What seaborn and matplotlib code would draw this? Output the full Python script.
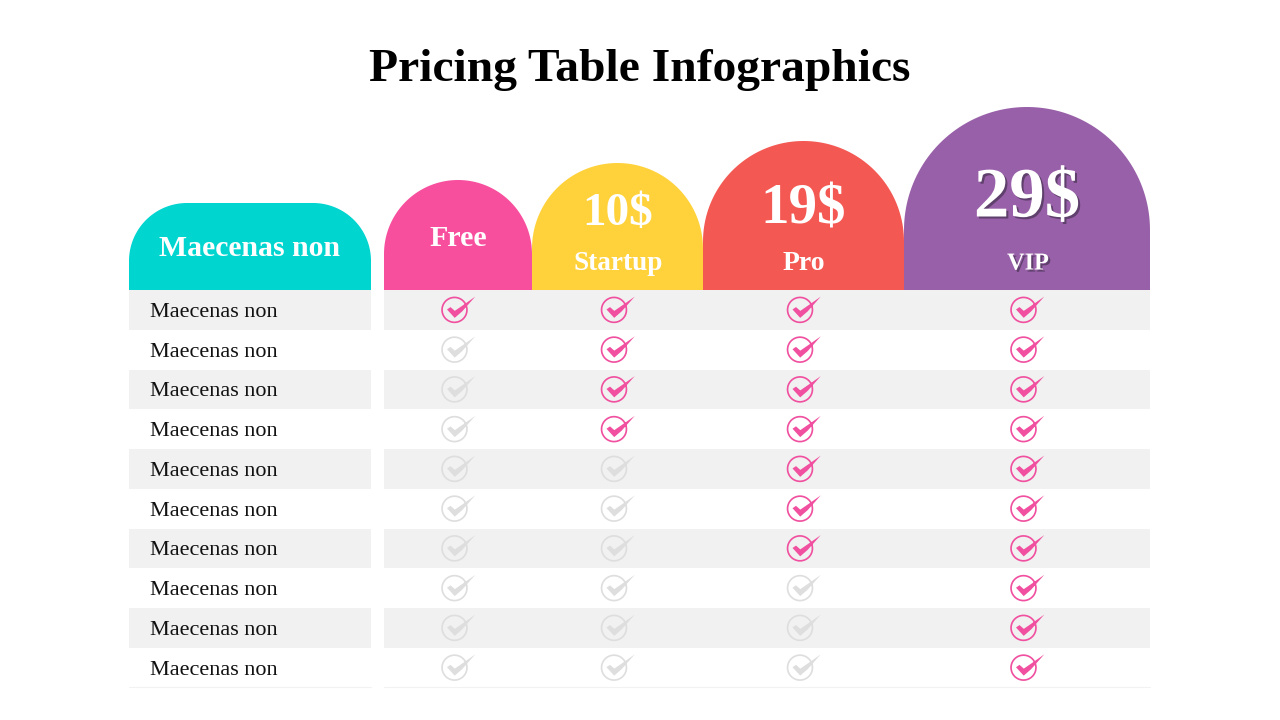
import numpy as np
import pandas as pd
import seaborn as sns
import matplotlib.pyplot as plt
import matplotlib.patheffects as pe
from matplotlib.patches import Polygon, Rectangle
from matplotlib.path import Path

# dados da tabela
title = 'Pricing Table Infographics'
feature_header = 'Maecenas non'
features = ['Maecenas non'] * 10
plans = ['Free', 'Startup', 'Pro', 'VIP']
prices = [None, '10$', '19$', '29$']
included_rows = [1, 4, 7, 10]

# cores
teal = '#00D5D0'
plan_colors = ['#F74F9E', '#FFD23C', '#F45853', '#9860A8']
stripe = '#F1F1F1'
check_on = '#F0509F'
check_off = '#DEDEDE'

# layout em pixels
col_edges = [384, 532, 703, 904, 1150]
arch_tops = [180, 163, 141, 107]
head_bottom = 290
row_h = 39.75
serif = 'Liberation Serif'


def arch(x0, x1, top, bottom):
    r = (x1 - x0) / 2
    a = np.linspace(np.pi, 0, 90)
    xs = (x0 + x1) / 2 + r * np.cos(a)
    ys = top + r - r * np.sin(a)
    pts = [(x0, bottom)] + list(zip(xs, ys)) + [(x1, bottom)]
    return Polygon(pts, closed=True, ec='none')


def rounded_head(x0, x1, top, bottom, r):
    a = np.linspace(np.pi, np.pi / 2, 40)
    left = list(zip(x0 + r + r * np.cos(a), top + r - r * np.sin(a)))
    right = list(zip(x1 - r - r * np.cos(a[::-1]), top + r - r * np.sin(a[::-1])))
    return Polygon([(x0, bottom)] + left + right + [(x1, bottom)], closed=True, ec='none')


def check_marker():
    # anel + visto, coordenadas em px a partir do centro do círculo (y para cima)
    t = np.linspace(0, 2 * np.pi, 80)
    outer = np.c_[13.3 * np.cos(t), 13.3 * np.sin(t)]
    inner = np.c_[11.6 * np.cos(t[::-1]), 11.6 * np.sin(t[::-1])]
    # sentido anti-horário, para não abrir um buraco onde cruza o anel
    tick = [(-7.5, 0.4), (0.2, -8), (7.7, -1.5), (20.8, 13.3), (9, 5), (0.3, -1), (-4, 2.8), (-7.5, 0.4)]
    return Path.make_compound_path(Path(outer, closed=True), Path(inner, closed=True),
                                   Path(tick, closed=True))


sns.set_theme(style='white')
plt.rcParams['font.family'] = [serif, 'DejaVu Serif']

fig = plt.figure(figsize=(12.8, 7.2), dpi=100)
ax = fig.add_axes([0, 0, 1, 1])
ax.set_xlim(0, 1280)
ax.set_ylim(720, 0)
ax.axis('off')

ax.text(640, 70, title, ha='center', va='center', fontsize=34.2, fontweight='bold', color='black')

# cabeçalhos
head = rounded_head(129, 371, 203, head_bottom, 58)
head.set_facecolor(teal)
ax.add_patch(head)
ax.text(249.5, 248, feature_header, ha='center', va='center', fontsize=21.4,
        fontweight='bold', color='white')

for i, plan in enumerate(plans):
    p = arch(col_edges[i], col_edges[i + 1], arch_tops[i], head_bottom)
    p.set_facecolor(plan_colors[i])
    ax.add_patch(p)

centers = [(col_edges[i] + col_edges[i + 1]) / 2 for i in range(len(plans))]
shadow = [pe.withSimplePatchShadow(offset=(1.5, -1.5), shadow_rgbFace='#3A2A45', alpha=0.6)]
ax.text(centers[0], 238, plans[0], ha='center', va='center', fontsize=21.6, fontweight='bold', color='white')
ax.text(centers[1] + 0.5, 214, prices[1], ha='center', va='center', fontsize=34, fontweight='bold', color='white')
ax.text(centers[1] + 1, 264, plans[1], ha='center', va='center', fontsize=19.6, fontweight='bold', color='white')
ax.text(centers[2], 209, prices[2], ha='center', va='center', fontsize=41, fontweight='bold', color='white')
ax.text(centers[2], 264, plans[2], ha='center', va='center', fontsize=20, fontweight='bold', color='white')
ax.text(centers[3], 199, prices[3], ha='center', va='center', fontsize=51, fontweight='bold', color='white',
        path_effects=shadow)
ax.text(centers[3] + 1, 264, plans[3], ha='center', va='center', fontsize=17.5, fontweight='bold', color='white',
        path_effects=shadow)

# linhas da tabela
n = len(features)
row_mid = [head_bottom + row_h * (i + 0.5) for i in range(n)]
for i, name in enumerate(features):
    if i % 2 == 0:
        y = head_bottom + row_h * i
        ax.add_patch(Rectangle((129, y), 242, row_h, fc=stripe, ec='none'))
        ax.add_patch(Rectangle((384, y), 766, row_h, fc=stripe, ec='none'))
    ax.text(150, row_mid[i] + 2.5, name, ha='left', va='center', fontsize=15.9, color='#111111')

bottom = head_bottom + row_h * n - 0.5
ax.plot([129, 371], [bottom, bottom], color='#F2F2F2', lw=0.8)
ax.plot([384, 1150], [bottom, bottom], color='#F2F2F2', lw=0.8)

# marcas de verificação
records = []
for c, count in enumerate(included_rows):
    for r in range(n):
        records.append({'x': centers[c] - 3.5, 'y': row_mid[r], 'on': 'yes' if r < count else 'no'})
df = pd.DataFrame(records)

marker = check_marker()
extent = 2 * np.abs(marker.vertices).max()
size = (extent * 72 / 100) ** 2
sns.scatterplot(data=df, x='x', y='y', hue='on', palette={'yes': check_on, 'no': check_off},
                marker=marker, s=size, linewidth=0, edgecolor='none', legend=False, ax=ax, zorder=3)
ax.set_xlabel('')
ax.set_ylabel('')

plt.savefig('out.png', dpi=100)
